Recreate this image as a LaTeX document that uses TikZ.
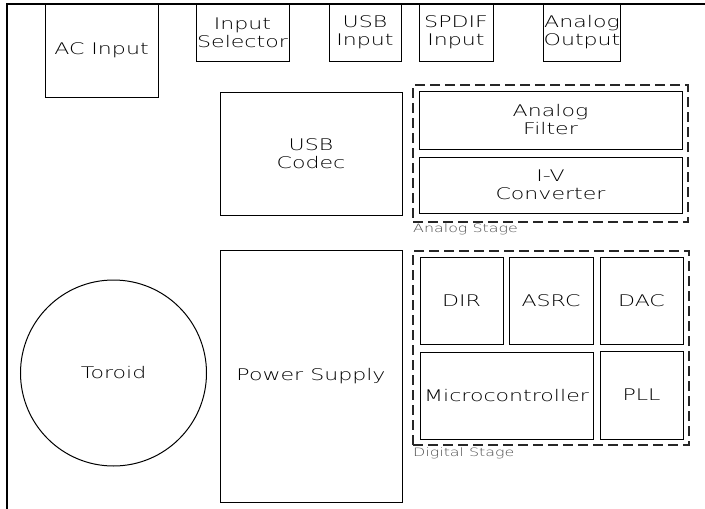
\documentclass[tikz,border=0pt]{standalone}
\usepackage{fontspec}
\setmainfont{DejaVu Sans ExtraLight}[FakeStretch=1.38]
\begin{document}
\begin{tikzpicture}[x=1pt,y=-1pt,
  box/.style={draw=black,line width=1pt,inner sep=0pt,align=center,
    font=\fontsize{16}{18}\selectfont},
  stage/.style={draw=black!85,line width=1.2pt,dash pattern=on 10pt off 5pt,inner sep=0pt},
  stagelabel/.style={anchor=north west,inner sep=0pt,text=black!70,
    font=\fontsize{11.5}{14}\selectfont}]
\useasboundingbox (0,0) rectangle (705,509);
% outer frame (only top and left visible)
\coordinate (ftl) at (7,4);
\coordinate (ftr) at (710,4);
\coordinate (fbl) at (7,515);
\draw[line width=2.5pt] (ftr) -- (ftl) -- (fbl);
% top connectors
\node[box,minimum width=113pt,minimum height=93pt] (ac) at (101.5,50.5) {AC Input};
\node[box,minimum width=93pt,minimum height=57pt] (sel) at (242.5,32.5) {Input\\Selector};
\node[box,minimum width=72pt,minimum height=57pt] (usbin) at (365,32.5) {USB\\Input};
\node[box,minimum width=74pt,minimum height=57pt] (spdif) at (456,32.5) {SPDIF\\Input};
\node[box,minimum width=76pt,minimum height=57pt] (aout) at (582,32.5) {Analog\\Output};
% middle
\node[box,minimum width=182pt,minimum height=123pt] (codec) at (311,153.5) {USB\\Codec};
\node[stage,minimum width=275pt,minimum height=137pt] (astage) at (550.5,153.5) {};
\node[box,minimum width=263pt,minimum height=58pt] (filt) at (550.5,120) {Analog\\Filter};
\node[box,minimum width=263pt,minimum height=56pt] (iv) at (550.5,185) {I-V\\Converter};
\node[stagelabel] (alab) at (413,224) {Analog Stage};
% bottom
\node[box,circle,minimum size=186pt] (tor) at (113.5,373) {Toroid};
\node[box,minimum width=182pt,minimum height=252pt] (psu) at (311,376) {Power Supply};
\node[stage,minimum width=276pt,minimum height=194pt] (dstage) at (551,348) {};
\node[box,minimum width=83pt,minimum height=87pt] (dir) at (461.5,300.5) {DIR};
\node[box,minimum width=84pt,minimum height=87pt] (asrc) at (551,300.5) {ASRC};
\node[box,minimum width=83pt,minimum height=87pt] (dac) at (641.5,300.5) {DAC};
\node[box,minimum width=173pt,minimum height=87pt] (mcu) at (506.5,395.5) {Microcontroller};
\node[box,minimum width=83pt,minimum height=88pt] (pll) at (641.5,395) {PLL};
\node[stagelabel] (dlab) at (413,448) {Digital Stage};
\end{tikzpicture}
\end{document}
